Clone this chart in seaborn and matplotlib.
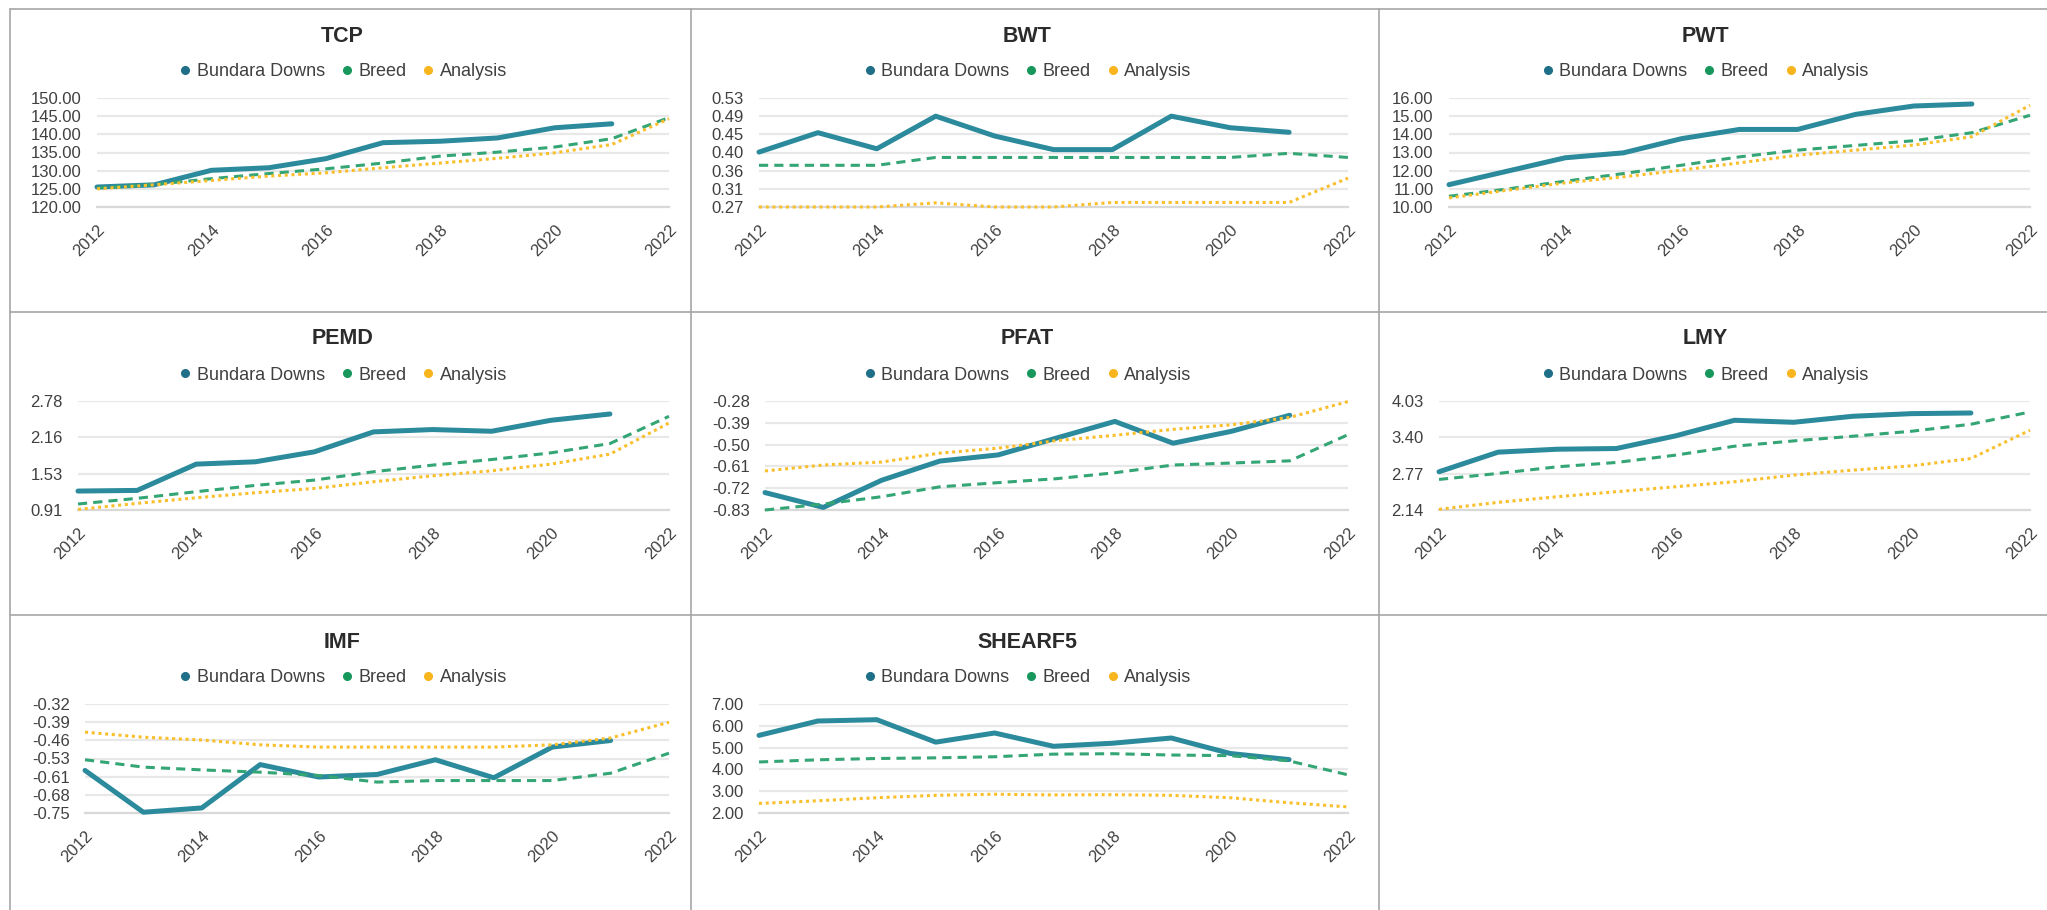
import numpy as np
import pandas as pd
import matplotlib
matplotlib.use("Agg")
import matplotlib.pyplot as plt
import seaborn as sns
from matplotlib.lines import Line2D

# ---- data ----
years = [2012, 2013, 2014, 2015, 2016, 2017, 2018, 2019, 2020, 2021, 2022]
series_names = ["Bundara Downs", "Breed", "Analysis"]
traits = ["TCP", "BWT", "PWT", "PEMD", "PFAT", "LMY", "IMF", "SHEARF5"]

tcp_bundara = [125.5, 126.1, 130.1, 130.8, 133.3, 137.7, 138.1, 139.0, 141.8, 142.9]
tcp_breed = [125.2, 126.2, 127.8, 129.2, 130.5, 132.1, 134.0, 135.1, 136.5, 138.8, 144.6]
tcp_analysis = [125.0, 126.1, 127.3, 128.5, 129.4, 130.8, 132.1, 133.4, 134.9, 137.2, 144.3]

bwt_bundara = [0.403, 0.450, 0.411, 0.490, 0.442, 0.409, 0.409, 0.490, 0.462, 0.451]
bwt_breed = [0.371, 0.371, 0.371, 0.390, 0.390, 0.390, 0.390, 0.390, 0.390, 0.400, 0.390]
bwt_analysis = [0.270, 0.270, 0.270, 0.280, 0.270, 0.270, 0.281, 0.281, 0.281, 0.281, 0.340]

pwt_bundara = [11.23, 11.97, 12.71, 12.98, 13.76, 14.27, 14.27, 15.10, 15.56, 15.67]
pwt_breed = [10.59, 10.99, 11.42, 11.84, 12.30, 12.76, 13.13, 13.39, 13.65, 14.09, 15.05]
pwt_analysis = [10.50, 10.92, 11.33, 11.66, 12.03, 12.43, 12.85, 13.13, 13.41, 13.87, 15.60]

pemd_bundara = [1.235, 1.246, 1.697, 1.737, 1.908, 2.250, 2.290, 2.261, 2.449, 2.557]
pemd_breed = [1.013, 1.110, 1.224, 1.332, 1.423, 1.566, 1.680, 1.776, 1.890, 2.050, 2.517]
pemd_analysis = [0.920, 1.024, 1.120, 1.206, 1.280, 1.395, 1.497, 1.583, 1.697, 1.868, 2.403]

pfat_bundara = [-0.742, -0.817, -0.680, -0.583, -0.552, -0.467, -0.383, -0.493, -0.433, -0.352]
pfat_breed = [-0.830, -0.800, -0.763, -0.713, -0.692, -0.672, -0.642, -0.603, -0.593, -0.582, -0.450]
pfat_analysis = [-0.633, -0.603, -0.588, -0.543, -0.518, -0.480, -0.453, -0.423, -0.400, -0.363, -0.283]

lmy_bundara = [2.803, 3.143, 3.194, 3.206, 3.425, 3.696, 3.661, 3.765, 3.811, 3.822]
lmy_breed = [2.670, 2.774, 2.889, 2.964, 3.091, 3.246, 3.338, 3.419, 3.506, 3.627, 3.840]
lmy_analysis = [2.152, 2.273, 2.370, 2.457, 2.543, 2.630, 2.745, 2.831, 2.906, 3.033, 3.523]

imf_bundara = [-0.582, -0.747, -0.730, -0.559, -0.608, -0.598, -0.540, -0.611, -0.490, -0.464]
imf_breed = [-0.540, -0.569, -0.580, -0.589, -0.602, -0.628, -0.622, -0.622, -0.622, -0.593, -0.514]
imf_analysis = [-0.431, -0.451, -0.462, -0.481, -0.490, -0.490, -0.490, -0.490, -0.481, -0.454, -0.392]

shearf5_bundara = [5.56, 6.22, 6.28, 5.25, 5.67, 5.06, 5.20, 5.44, 4.73, 4.45]
shearf5_breed = [4.34, 4.44, 4.50, 4.53, 4.58, 4.70, 4.72, 4.66, 4.63, 4.39, 3.75]
shearf5_analysis = [2.44, 2.56, 2.70, 2.81, 2.86, 2.83, 2.84, 2.81, 2.70, 2.47, 2.28]

y_lo = [120, 0.27, 10, 0.91, -0.83, 2.14, -0.75, 2]
y_hi = [150, 0.534, 16, 2.78, -0.28, 4.03, -0.32, 7]
y_ticklabels = [
    ["120.00", "125.00", "130.00", "135.00", "140.00", "145.00", "150.00"],
    ["0.27", "0.31", "0.36", "0.40", "0.45", "0.49", "0.53"],
    ["10.00", "11.00", "12.00", "13.00", "14.00", "15.00", "16.00"],
    ["0.91", "1.53", "2.16", "2.78"],
    ["-0.83", "-0.72", "-0.61", "-0.50", "-0.39", "-0.28"],
    ["2.14", "2.77", "3.40", "4.03"],
    ["-0.75", "-0.68", "-0.61", "-0.53", "-0.46", "-0.39", "-0.32"],
    ["2.00", "3.00", "4.00", "5.00", "6.00", "7.00"],
]
x_ticks = [2012, 2014, 2016, 2018, 2020, 2022]

panel_data = [
    (tcp_bundara, tcp_breed, tcp_analysis),
    (bwt_bundara, bwt_breed, bwt_analysis),
    (pwt_bundara, pwt_breed, pwt_analysis),
    (pemd_bundara, pemd_breed, pemd_analysis),
    (pfat_bundara, pfat_breed, pfat_analysis),
    (lmy_bundara, lmy_breed, lmy_analysis),
    (imf_bundara, imf_breed, imf_analysis),
    (shearf5_bundara, shearf5_breed, shearf5_analysis),
]

# ---- styling ----
line_colors = ["#2B8A9B", "#34A574", "#F9BF2C"]
dot_colors = ["#1E6F87", "#18975C", "#F8B51E"]
line_widths = [3.6, 2.2, 2.2]
line_styles = ["-", (0, (3, 2)), (0, (1, 1.2))]
text_col = "#404040"

sns.set_style("white")
plt.rcParams["font.family"] = ["Liberation Sans", "DejaVu Sans"]

W, H = 2047, 910
fig = plt.figure(figsize=(W / 100, H / 100), dpi=100)

col_left = [10, 691, 1379]
col_right = [691, 1379, 2047]
row_top = [9, 312, 615]
plot_left = [97, 759, 1449, 78, 765, 1439, 85, 759]
plot_right = [669, 1348, 2030]


def fx(px):
    return px / W


def fy(py):
    return 1 - py / H


# cell borders
border_kw = dict(color="#a6a6a6", lw=1.2, transform=fig.transFigure)
fig.add_artist(Line2D([fx(10), 1], [fy(9), fy(9)], **border_kw))
for yy in [312, 615]:
    fig.add_artist(Line2D([fx(10), 1], [fy(yy), fy(yy)], **border_kw))
for xx in [10, 691, 1379]:
    fig.add_artist(Line2D([fx(xx), fx(xx)], [fy(9), 0], **border_kw))

for i, trait in enumerate(traits):
    r, c = divmod(i, 3)
    top = row_top[r] + 89
    bottom = row_top[r] + 198
    left = plot_left[i]
    right = plot_right[c]
    ax = fig.add_axes([fx(left), fy(bottom), fx(right - left), (bottom - top) / H])

    for k, vals in enumerate(panel_data[i]):
        sns.lineplot(x=years[:len(vals)], y=vals, ax=ax, color=line_colors[k],
                     linewidth=line_widths[k], linestyle=line_styles[k],
                     clip_on=False, zorder=3 + k)

    ax.set_xlim(2012, 2022)
    ax.set_ylim(y_lo[i], y_hi[i])
    yt = np.linspace(y_lo[i], y_hi[i], len(y_ticklabels[i]))
    ax.set_yticks(yt)
    ax.set_yticklabels(y_ticklabels[i])
    ax.set_xticks(x_ticks)
    ax.set_xticklabels([str(y) for y in x_ticks], rotation=45, ha="right",
                       rotation_mode="anchor")
    ax.set_xlabel("")
    ax.set_ylabel("")

    for s in ["top", "right", "left"]:
        ax.spines[s].set_visible(False)
    ax.spines["bottom"].set_color("#d9d9d9")
    ax.spines["bottom"].set_linewidth(1.6)
    ax.grid(axis="y", color="#e8e8e8", linewidth=1.6)
    ax.grid(axis="x", visible=False)
    ax.set_axisbelow(True)
    ax.tick_params(axis="y", length=0, pad=11, labelsize=12, labelcolor=text_col)
    ax.tick_params(axis="x", length=7, width=1.4, color="#d9d9d9", pad=4,
                   labelsize=12, labelcolor=text_col, direction="out")

    cx = (col_left[c] + col_right[c]) / 2 - 8
    fig.text(fx(cx), fy(row_top[r] + 27), trait, ha="center", va="center",
             fontsize=15.5, fontweight="bold", color="#2b2b2b")

    handles = [Line2D([], [], marker="o", linestyle="none", markersize=5.5,
                      markerfacecolor=dot_colors[k], markeredgecolor=dot_colors[k])
               for k in range(3)]
    ax.legend(handles, series_names, loc="center", ncol=3, frameon=False,
              bbox_to_anchor=(fx(cx), fy(row_top[r] + 63)),
              bbox_transform=fig.transFigure, fontsize=13, labelcolor=text_col,
              handletextpad=0.25, columnspacing=0.8, handlelength=0.8,
              borderpad=0, borderaxespad=0)

fig.savefig("out.png", dpi=100)
